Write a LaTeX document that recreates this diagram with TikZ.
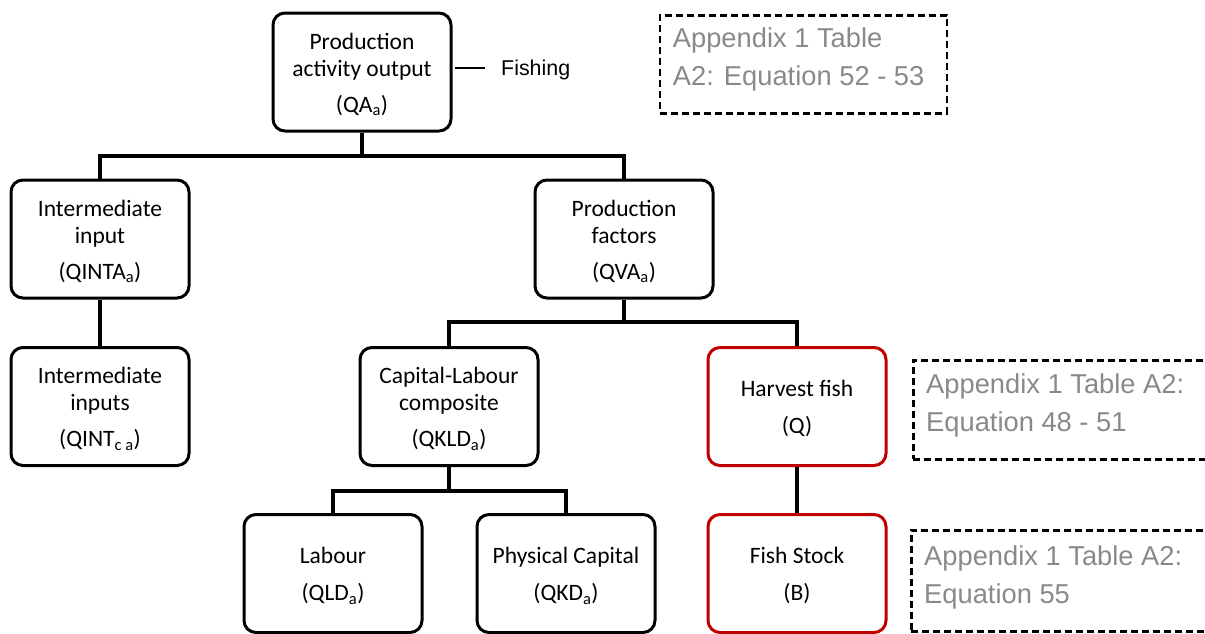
\documentclass[tikz,border=0pt]{standalone}
\usepackage{fontspec}
\setmainfont{Carlito}
\newfontfamily\reffont{Liberation Sans}
\definecolor{fishred}{HTML}{C00000}
\definecolor{refgray}{HTML}{898989}
% extra room above the first line of a box label
\newcommand\labtop{\rule{0pt}{21pt}}
\begin{document}
\begin{tikzpicture}[x=1pt,y=-1pt,
  box/.style={draw=black, line width=3pt, rounded corners=12pt, fill=white,
    minimum width=178pt, minimum height=118pt, inner sep=0pt, align=center,
    font=\fontsize{23.5}{27}\selectfont},
  redbox/.style={box, draw=fishred},
  conn/.style={line width=4pt, black},
  dashbox/.style={draw=black, line width=2.5pt, dash pattern=on 7pt off 4pt},
  reftext/.style={anchor=north west, inner sep=0pt, align=left, text=refgray,
    font=\reffont\fontsize{27.3}{37.6}\selectfont},
]
\useasboundingbox (0,0) rectangle (1205,633);
\clip (0,0) rectangle (1205,633);

% bar levels of the tree
\coordinate (bar1) at (362,156);
\coordinate (bar2) at (624,322);
\coordinate (bar3) at (449,491);

% boxes
\node[box] (qa)   at (362,72)    {\labtop Production\\activity output\\[9pt](QA\textsubscript{a})};
\node[box] (qinta) at (100,239)  {\labtop Intermediate\\input\\[9pt](QINTA\textsubscript{a})};
\node[box] (qva)  at (624,239)   {\labtop Production\\factors\\[9pt](QVA\textsubscript{a})};
\node[box] (qint) at (100,406.5) {\labtop Intermediate\\inputs\\[9pt](QINT\textsubscript{c a})};
\node[box] (qkld) at (449,406.5) {\labtop Capital-Labour\\composite\\[9pt](QKLD\textsubscript{a})};
\node[redbox] (harv) at (797,406.5) {\labtop Harvest fish\\[10pt](Q)};
\node[box] (qld)  at (333,573.5) {\labtop Labour\\[10pt](QLD\textsubscript{a})};
\node[box] (qkd)  at (566,573.5) {\labtop Physical Capital\\[10pt](QKD\textsubscript{a})};
\node[redbox] (stock) at (797,573.5) {\labtop Fish Stock\\[10pt](B)};

% tree connectors
\draw[conn] (qa.south) -- (bar1);
\draw[conn] (qinta.north) |- (bar1) -| (qva.north);
\draw[conn] (qinta.south) -- (qint.north);
\draw[conn] (qva.south) -- (bar2);
\draw[conn] (qkld.north) |- (bar2) -| (harv.north);
\draw[conn] (qkld.south) -- (bar3);
\draw[conn] (qld.north) |- (bar3) -| (qkd.north);
\draw[conn] (harv.south) -- (stock.north);

% activity label
\node[anchor=west, inner sep=0pt, font=\reffont\fontsize{21.4}{24}\selectfont] (fishing) at (501,70) {Fishing};
\draw[line width=1.8pt] (455,68) coordinate (fa) -- (485,68) coordinate (fb);

% equation references
\node[dashbox, anchor=north west, minimum width=287pt, minimum height=98pt] (ref1) at (658.5,14) {};
\node[reftext] (ref1t) at (672.7,27.8) {Appendix 1 Table\\A2: Equation 52 - 53};
\node[dashbox, anchor=north west, minimum width=310pt, minimum height=99pt] (ref2) at (912,359) {};
\node[reftext] (ref2t) at (926,374) {Appendix 1 Table A2:\\Equation 48 - 51};
\node[dashbox, anchor=north west, minimum width=310pt, minimum height=101pt] (ref3) at (910,529) {};
\node[reftext] (ref3t) at (924,545.5) {Appendix 1 Table A2:\\Equation 55};
\end{tikzpicture}
\end{document}
